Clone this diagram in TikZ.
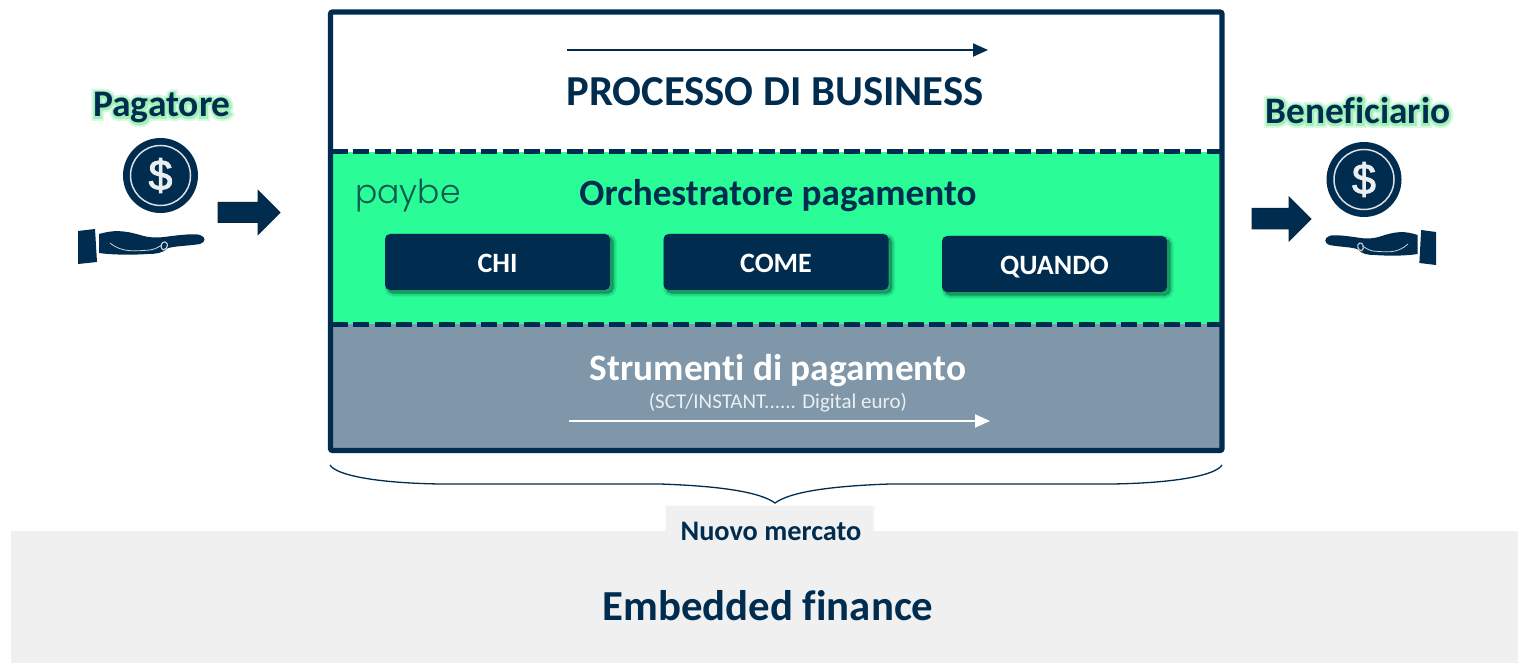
\documentclass[tikz,border=0pt]{standalone}
\usepackage{fontspec}
\setmainfont[Ligatures={NoCommon}]{Carlito}
\newfontfamily\logofont[UprightFont={* Light}]{Poppins}
\newfontfamily\dollarfont{Liberation Sans}
\usetikzlibrary{shadows,arrows.meta}
\definecolor{navy}{HTML}{002D4F}
\definecolor{bandgreen}{HTML}{2AFC97}
\definecolor{bandgray}{HTML}{7F97A9}
\definecolor{foot}{HTML}{F0F0F0}
\definecolor{haloA}{HTML}{D8F8E2}
\definecolor{haloB}{HTML}{A0F0BA}
\definecolor{logocol}{HTML}{0E5C50}
\definecolor{shadowcol}{HTML}{0A5A40}
\newcommand\halotext[1]{\rlap{\color{haloA}\special{pdf:code 2 Tr 8 w}#1\special{pdf:code 0 Tr 1 w}}\rlap{\color{haloB}\special{pdf:code 2 Tr 4 w}#1\special{pdf:code 0 Tr 1 w}}#1}
\newcommand\btntext[1]{\raisebox{-10.7pt}[0pt][0pt]{#1}}
\newcommand\dollartext[1]{\special{pdf:code 2 Tr 0.9 w}#1\special{pdf:code 0 Tr 1 w}}
\tikzset{
  x=1pt,y=-1pt,
  label bold/.style={font=\bfseries,text=navy,inner sep=0pt,anchor=center},
  softshade/.style={preaction={draw=shadowcol,fill=shadowcol,line width=#1,opacity=.13,transform canvas={xshift=3pt,yshift=-3pt}}},
  btn/.style={fill=navy,rounded corners=5pt,minimum width=225pt,minimum height=56pt,inner sep=0pt,text=white,font=\bfseries\fontsize{28}{28}\selectfont,
     softshade=7pt,softshade=4.5pt,softshade=2pt,softshade=0pt},
  dashline/.style={navy,line width=5pt,dash pattern=on 16pt off 5.33pt},
  blockarrow/.style={fill=navy,draw=navy!85!black,line width=1pt},
  lineArrow/.style={line width=2pt,-{Triangle[length=15pt,width=13pt]}},
}
\newcommand\coinicon[3]{%
  \fill[navy] (#1,#2) circle (37.5);
  \draw[white!85!navy,line width=1.5pt] (#1,#2) circle (30);
  \node[inner sep=0pt,text=white!92!navy,font=\dollarfont\fontsize{43}{43}\selectfont] (#3) at (#1,#2) {\dollartext{\$}};
}
\newcommand\handicon{%
  \fill[navy] (0,1) -- (17,-1) -- (19,32) -- (0,34) -- cycle;
  \fill[navy] (21,4) .. controls (35,0) and (45,0) .. (62,5) .. controls (72,8) and (80,8) .. (90,6.5)
     .. controls (105,4.5) and (118,3.5) .. (122,5) .. controls (128,7) and (128,12) .. (122,14)
     .. controls (110,16) and (95,16) .. (89,18.5) .. controls (85,23) and (78,24) .. (70,24)
     .. controls (55,25) and (35,25) .. (21,23) -- cycle;
  \draw[white!80!navy,line width=.8pt] (32,13) .. controls (44,23) and (58,21) .. (72,20) .. controls (78,19) and (80,17) .. (84,15);
  \draw[white!80!navy,line width=1.1pt] (85,20) .. controls (81,17) and (84,11) .. (87,12) .. controls (91,13) and (90,19) .. (85,20);
}
\begin{document}
\begin{tikzpicture}
\useasboundingbox (0,0) rectangle (1518,663);
\fill[white] (0,0) rectangle (1518,663);
% footer
\fill[foot] (11,531) rectangle (1518,663);
\fill[foot] (666,506) rectangle (873,552);
\draw[foot,line width=3pt,opacity=.4] (666,506) rectangle (873,552);
% main box
\fill[bandgreen] (330,152) rectangle (1222,324);
\fill[bandgray] (330,324) rectangle (1222,451);
\coordinate (dl1) at (332,152); \coordinate (dr1) at (1220,152);
\coordinate (dl2) at (332,324); \coordinate (dr2) at (1220,324);
\draw[dashline] (dl1) -- (dr1);
\draw[dashline] (dl2) -- (dr2);
\draw[navy,line width=5.2pt,rounded corners=2pt] (330.5,12) rectangle (1222,450.5);
% top
\coordinate (pa) at (567,50); \coordinate (pb) at (988,50);
\draw[lineArrow,navy] (pa) -- (pb);
\node[label bold,font=\bfseries\fontsize{42.7}{42.7}\selectfont] (proc) at (775,92) {PROCESSO DI BUSINESS};
% green band
\node[label bold,font=\bfseries\fontsize{37.2}{37.2}\selectfont] (orch) at (778,196) {Orchestratore pagamento};
\node[inner sep=0pt,text=logocol,font=\logofont\fontsize{33}{33}\selectfont] (logo) at (408,196) {paybe};
\node[btn] (chi) at (497.5,262) {\btntext{CHI}};
\node[btn] (come) at (776,262) {\btntext{COME}};
\node[btn] (quando) at (1054.5,264) {\btntext{QUANDO}};
% gray band
\node[inner sep=0pt,text=white,font=\bfseries\fontsize{37.3}{37.3}\selectfont] (strum) at (778,371) {Strumenti di pagamento};
\node[inner sep=0pt,text=white!85!bandgray,font=\fontsize{21}{21}\selectfont] (sct) at (778,403) {(SCT/INSTANT...... Digital euro)};
\coordinate (wa) at (569,421); \coordinate (wb) at (990,421);
\draw[lineArrow,white] (wa) -- (wb);
% brace
\coordinate (bl) at (330,465); \coordinate (bt) at (775,503); \coordinate (br) at (1222,465);
\draw[navy,line width=1.3pt] (bl) .. controls (336,475) and (375,483) .. (440,484) -- (660,484) .. controls (720,486) and (760,492) .. (bt)
   .. controls (790,492) and (830,486) .. (890,484) -- (1112,484) .. controls (1177,483) and (1216,475) .. (br);
\node[label bold,font=\bfseries\fontsize{28.3}{28.3}\selectfont] (nuovo) at (771,531) {Nuovo mercato};
\node[label bold,font=\bfseries\fontsize{42.8}{42.8}\selectfont] (emb) at (768,606) {Embedded finance};
% left actor
\node[label bold,font=\bfseries\fontsize{37.5}{37.5}\selectfont] (pag) at (162,108) {\halotext{Pagatore}};
\coinicon{160.5}{175.5}{coinL}
\begin{scope}[shift={(78,230)}]\handicon\end{scope}
\fill[blockarrow] (218,202.5) -- (258,202.5) -- (258,190.5) -- (280,212.5) -- (258,234.5) -- (258,222.5) -- (218,222.5) -- cycle;
% right actor
\node[label bold,font=\bfseries\fontsize{37.3}{37.3}\selectfont] (ben) at (1358,111) {\halotext{Beneficiario}};
\coinicon{1364}{179.5}{coinR}
\begin{scope}[shift={(1436,231)},xscale=-0.875]\handicon\end{scope}
\fill[blockarrow] (1252,208.5) -- (1289,208.5) -- (1289,197) -- (1311,219) -- (1289,241) -- (1289,229) -- (1252,229) -- cycle;
\end{tikzpicture}
\end{document}
